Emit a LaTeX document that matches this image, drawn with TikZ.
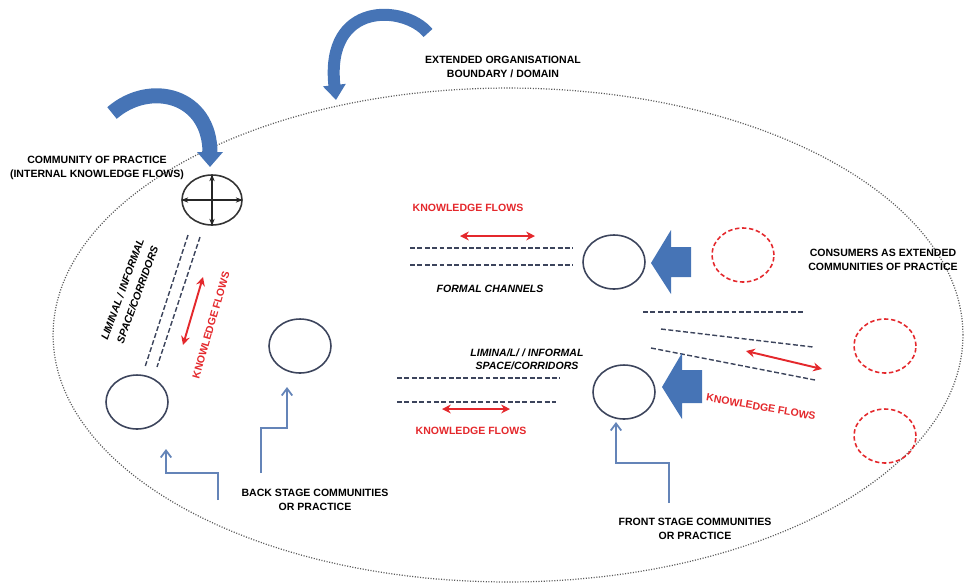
\documentclass[tikz,border=0pt]{standalone}
\usepackage{fontspec}
\setmainfont{Liberation Sans}
\usetikzlibrary{shapes.geometric,arrows.meta}
\definecolor{cpline}{RGB}{60,68,92}
\definecolor{cpblue}{RGB}{70,116,182}
\definecolor{cpred}{RGB}{228,40,44}
\definecolor{cpstep}{RGB}{100,132,184}
\tikzset{
  lbl/.style={font=\fontsize{6}{7.6}\selectfont\bfseries, align=center, inner sep=0pt},
  redlbl/.style={lbl, text=cpred},
  itlbl/.style={lbl, font=\fontsize{6}{7.6}\selectfont\bfseries\itshape},
  community/.style={draw=cpline, ellipse, line width=0.9pt, minimum width=1.24cm, minimum height=1.08cm, inner sep=0pt},
  consumer/.style={community, draw=cpred, dash pattern=on 2.5pt off 1.5pt},
  channel/.style={cpline, line width=0.8pt, dash pattern=on 2.8pt off 1.4pt},
  flow/.style={cpred, line width=1.1pt, {Stealth[length=5pt,width=5pt]}-{Stealth[length=5pt,width=5pt]}},
  stepline/.style={cpstep, line width=1pt, -{Straight Barb[length=4pt,width=6pt]}},
  blockarrow/.style={fill=cpblue, draw=none}
}
\begin{document}
\begin{tikzpicture}[x=0.02cm, y=-0.02cm]
\useasboundingbox (0,0) rectangle (966,583);

% organisational boundary
\node (boundary) [draw=gray!70!black, ellipse, line width=0.7pt, dash pattern=on 0.6pt off 0.9pt,
  minimum width=18.2cm, minimum height=9.88cm] at (508,335) {};

% curved arrows
\draw[cpblue, line width=0.24cm, -{Triangle[width=0.44cm,length=0.3cm]}]
  (428,33) .. controls (405,5) and (325,0) .. (336,100);
\draw[cpblue, line width=0.3cm, -{Triangle[width=0.5cm,length=0.3cm]}]
  (112,113) .. controls (150,80) and (210,95) .. (210,167);

% labels
\node (copLabel) [lbl] at (97,168) {COMMUNITY OF PRACTICE\\(INTERNAL KNOWLEDGE FLOWS)};
\node (domainLabel) [lbl] at (503,67) {EXTENDED ORGANISATIONAL\\BOUNDARY / DOMAIN};
\node (consLabel) [lbl] at (883,260) {CONSUMERS AS EXTENDED\\COMMUNITIES OF PRACTICE};
\node (backLabel) [lbl] at (315,500) {BACK STAGE COMMUNITIES\\OR PRACTICE};
\node (frontLabel) [lbl] at (695,529) {FRONT STAGE COMMUNITIES\\OR PRACTICE};
\node (liminalA) [itlbl, rotate=70, font=\fontsize{6}{9}\selectfont\bfseries\itshape] at (130,292) {LIMINAL / INFORMAL\\SPACE/CORRIDORS};
\node (liminalB) [itlbl] at (527,359) {LIMINA/L/ / INFORMAL\\SPACE/CORRIDORS};
\node (formalLabel) [itlbl] at (490,289) {FORMAL CHANNELS};
\node (flowA) [redlbl, rotate=74] at (211,325) {KNOWLEDGE FLOWS};
\node (flowB) [redlbl] at (468,208) {KNOWLEDGE FLOWS};
\node (flowC) [redlbl] at (471,431) {KNOWLEDGE FLOWS};
\node (flowD) [redlbl, rotate=-10] at (761,407) {KNOWLEDGE FLOWS};

% communities
\node (cop) [community, draw=black!80, minimum width=1.2cm, minimum height=1cm] at (212,200) {};
\node (backA) [community] at (137,402) {};
\node (backB) [community] at (300,346) {};
\node (formal) [community] at (614,262) {};
\node (front) [community] at (624,392) {};
\node (consA) [consumer] at (743,255) {};
\node (consB) [consumer] at (885,346) {};
\node (consC) [consumer] at (885,436) {};

\draw[black!85, line width=0.8pt, {Stealth[length=4pt]}-{Stealth[length=4pt]}] (cop.west) -- (cop.east);
\draw[black!85, line width=0.8pt, {Stealth[length=4pt]}-{Stealth[length=4pt]}] (cop.north) -- (cop.south);

% channels
\draw[channel] (188,235) -- (145,367);
\draw[channel] (200,237) -- (157,367);
\draw[channel] (410,248) -- (573,248);
\draw[channel] (410,265) -- (573,265);
\draw[channel] (397,378) -- (560,378);
\draw[channel] (397,402) -- (556,402);
\draw[channel] (643,312) -- (805,312);
\draw[channel] (661,329) -- (813,347);
\draw[channel] (651,348) -- (815,380);

% knowledge flows
\coordinate (fa1) at (203,277); \coordinate (fa2) at (183,345);
\coordinate (fb1) at (460,236); \coordinate (fb2) at (535,236);
\coordinate (fc1) at (442,409); \coordinate (fc2) at (510,409);
\coordinate (fd1) at (746,351); \coordinate (fd2) at (822,369);
\draw[flow] (fa1) -- (fa2);
\draw[flow] (fb1) -- (fb2);
\draw[flow] (fc1) -- (fc2);
\draw[flow] (fd1) -- (fd2);

% block arrows
\fill[blockarrow] (651,263) -- (671,230) -- (671,247) -- (691,247) -- (691,277) -- (671,277) -- (671,294) -- cycle;
\fill[blockarrow] (662,387) -- (682,353) -- (682,370) -- (702,370) -- (702,403) -- (682,403) -- (682,419) -- cycle;

% stage pointers
\coordinate (backFootA) at (218,500); \coordinate (backTipA) at (166,449);
\coordinate (backFootB) at (261,473); \coordinate (backTipB) at (287,387);
\coordinate (frontFoot) at (669,503); \coordinate (frontTip) at (616,422);
\draw[stepline] (backFootA) -- ++(0,-27) -| (backTipA);
\draw[stepline] (backFootB) -- ++(0,-45) -| (backTipB);
\draw[stepline] (frontFoot) -- ++(0,-40) -| (frontTip);
\end{tikzpicture}
\end{document}
